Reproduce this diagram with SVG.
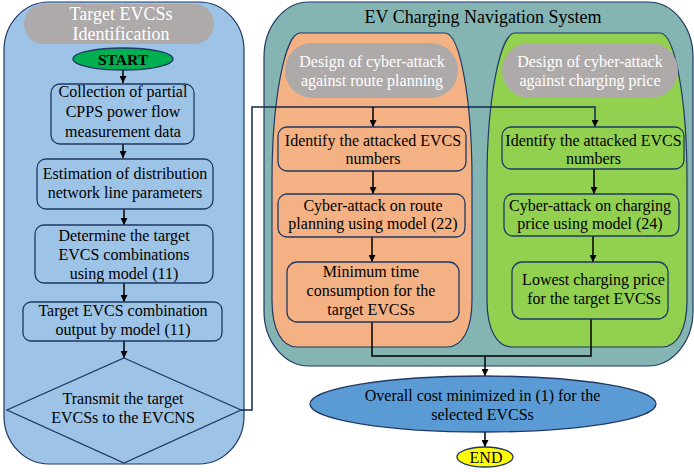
<svg xmlns="http://www.w3.org/2000/svg" width="694" height="472" viewBox="0 0 694 472">
<defs>
<marker id="arr" markerUnits="userSpaceOnUse" markerWidth="7" markerHeight="7" refX="7" refY="3.5" orient="auto">
<path d="M0,0 L7,3.5 L0,7 z" fill="#000"/>
</marker>
<style>
.t{font-family:"Liberation Serif","Times New Roman",serif;font-size:16px;fill:#000;text-anchor:middle}
.ttl{font-size:18px}
.w{fill:#fff}
.box{stroke:#1f3864;stroke-width:1.3}
.pan{stroke:#1f3864;stroke-width:1.2}
.pill{fill:#aeaaaa}
.c{fill:none;stroke:#000;stroke-width:1.5}
.cn{fill:none;stroke:#15284b;stroke-width:1.5}
</style>
</defs>
<g id="panel-left">
<rect class="pan" x="4" y="2" width="240" height="462" rx="45" ry="48" fill="#9dc3e6"/>
<rect class="pill" x="24" y="4" width="190" height="40" rx="20"/>
<text class="t ttl w" x="121" y="20">Target EVCSs</text>
<text class="t ttl w" x="121" y="40">Identification</text>
</g>
<g id="panel-evcns">
<rect class="pan" x="264" y="2" width="429" height="364" rx="45" ry="55" fill="#84b5b3"/>
<text class="t ttl" x="483" y="23">EV Charging Navigation System</text>
</g>
<g id="panel-route">
<path class="pan" fill="#f4b183" d="M300,33 L445,33 C460,33 472,100 472,180 L472,300 C472,330 462,347 447,347 L297,347 C282,347 272,330 272,300 L272,180 C272,100 285,33 300,33 Z"/>
<rect class="pill" x="285" y="43" width="173" height="55" rx="27.5"/>
<text class="t w" x="372" y="67">Design of cyber-attack</text>
<text class="t w" x="372" y="86">against route planning</text>
</g>
<g id="panel-price">
<path class="pan" fill="#92d050" d="M515,33 L660,33 C675,33 687,100 687,180 L687,300 C687,330 677,347 662,347 L512,347 C497,347 487,330 487,300 L487,180 C487,100 500,33 515,33 Z"/>
<rect class="pill" x="502" y="43" width="176" height="55" rx="27.5"/>
<text class="t w" x="590" y="67">Design of cyber-attack</text>
<text class="t w" x="590" y="86">against charging price</text>
</g>
<g id="connectors">
<path class="c" d="M123,70 V83" marker-end="url(#arr)"/>
<path class="c" d="M123,144 V158" marker-end="url(#arr)"/>
<path class="c" d="M124,209 V225" marker-end="url(#arr)"/>
<path class="c" d="M124,283 V302" marker-end="url(#arr)"/>
<path class="c" d="M124,341 V358" marker-end="url(#arr)"/>
<path class="cn" d="M241,410 H252 V107 H595 V127" marker-end="url(#arr)"/>
<path class="c" d="M373,107 V127" marker-end="url(#arr)"/>
<path class="c" d="M373,171 V194" marker-end="url(#arr)"/>
<path class="c" d="M372,237 V262" marker-end="url(#arr)"/>
<path class="c" d="M594,169 V194" marker-end="url(#arr)"/>
<path class="c" d="M593,236 V262" marker-end="url(#arr)"/>
<path class="c" d="M372,322 V356 H591 V319"/>
<path class="c" d="M485,356 V376" marker-end="url(#arr)"/>
<path class="c" d="M485,432 V447" marker-end="url(#arr)"/>
</g>
<g id="start">
<ellipse class="box" cx="123" cy="59" rx="50" ry="11" fill="#00b050"/>
<text class="t" x="123" y="65" style="font-weight:bold;font-size:15.5px">START</text>
</g>
<g id="collect">
<rect class="box" x="51" y="84" width="143" height="60" rx="9" fill="#9dc3e6"/>
<text class="t" x="123" y="97">Collection of partial</text>
<text class="t" x="123" y="117">CPPS power flow</text>
<text class="t" x="123" y="137">measurement data</text>
</g>
<g id="estimate">
<rect class="box" x="37" y="159" width="176" height="50" rx="9" fill="#9dc3e6"/>
<text class="t" x="125" y="179">Estimation of distribution</text>
<text class="t" x="125" y="198">network line parameters</text>
</g>
<g id="determine">
<rect class="box" x="35" y="225" width="178" height="58" rx="9" fill="#9dc3e6"/>
<text class="t" x="124" y="241">Determine the target</text>
<text class="t" x="124" y="260">EVCS combinations</text>
<text class="t" x="124" y="279">using model (11)</text>
</g>
<g id="output">
<rect class="box" x="23" y="302" width="199" height="39" rx="8" fill="#9dc3e6"/>
<text class="t" x="123" y="316">Target EVCS combination</text>
<text class="t" x="123" y="335">output by model (11)</text>
</g>
<g id="transmit">
<polygon class="box" points="124,358 241,410 124,463 7,410" fill="#9dc3e6"/>
<text class="t" x="123" y="404">Transmit the target</text>
<text class="t" x="123" y="423">EVCSs to the EVCNS</text>
</g>
<g id="route-identify">
<rect class="box" x="278" y="127" width="188" height="44" rx="9" fill="#f4b183"/>
<text class="t" x="373" y="146">Identify the attacked EVCS</text>
<text class="t" x="373" y="164">numbers</text>
</g>
<g id="route-attack">
<rect class="box" x="278" y="194" width="187" height="43" rx="9" fill="#f4b183"/>
<text class="t" x="373" y="211">Cyber-attack on route</text>
<text class="t" x="373" y="229">planning using model (22)</text>
</g>
<g id="route-min">
<rect class="box" x="287" y="262" width="172" height="60" rx="10" fill="#f4b183"/>
<text class="t" x="371" y="277">Minimum time</text>
<text class="t" x="371" y="296">consumption for the</text>
<text class="t" x="371" y="315">target EVCSs</text>
</g>
<g id="price-identify">
<rect class="box" x="502" y="127" width="182" height="42" rx="9" fill="#92d050"/>
<text class="t" x="593.5" y="146">Identify the attacked EVCS</text>
<text class="t" x="593.5" y="164">numbers</text>
</g>
<g id="price-attack">
<rect class="box" x="504" y="194" width="175" height="42" rx="9" fill="#92d050"/>
<text class="t" x="590" y="211">Cyber-attack on charging</text>
<text class="t" x="590" y="229">price using model (24)</text>
</g>
<g id="price-low">
<rect class="box" x="512" y="262" width="156" height="57" rx="10" fill="#92d050"/>
<text class="t" x="593.5" y="285">Lowest charging price</text>
<text class="t" x="594" y="304">for the target EVCSs</text>
</g>
<g id="overall">
<ellipse class="box" cx="483" cy="404" rx="173" ry="28" fill="#5b9bd5"/>
<text class="t" x="482.5" y="401">Overall cost minimized in (1) for the</text>
<text class="t" x="482.5" y="420">selected EVCSs</text>
</g>
<g id="end">
<ellipse class="box" cx="485" cy="457" rx="28" ry="10" fill="#ffff00"/>
<text class="t" x="486" y="463">END</text>
</g>
</svg>
